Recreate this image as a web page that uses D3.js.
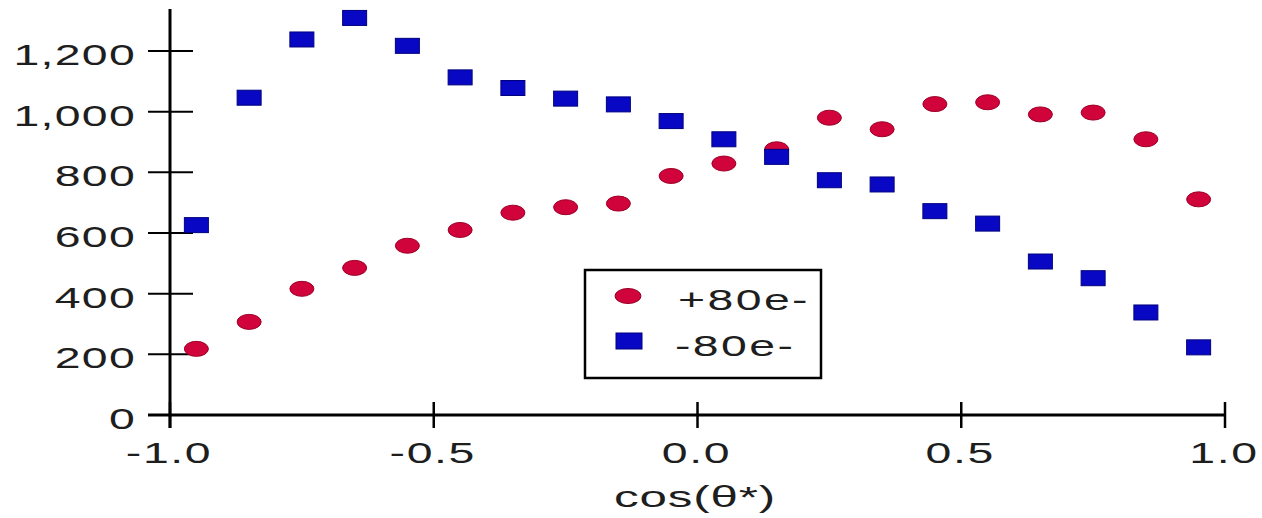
<!DOCTYPE html>
<html>
<head>
<meta charset="utf-8">
<script src="https://cdn.jsdelivr.net/npm/d3@7"></script>
<style>
  html, body { margin: 0; padding: 0; background: #fff; }
  svg { display: block; }
  text { font-family: "Liberation Sans", Arial, sans-serif; fill: #1e1e1e; }
</style>
</head>
<body>
<svg id="chart" width="1262" height="518"></svg>
<script>
// Bin centres of cos(theta*)
const cosTheta = [-0.95, -0.85, -0.75, -0.65, -0.55, -0.45, -0.35, -0.25, -0.15, -0.05,
                   0.05,  0.15,  0.25,  0.35,  0.45,  0.55,  0.65,  0.75,  0.85,  0.95];
// Counts per bin for each beam polarisation
const plus80 =  [218, 307, 416, 485, 558, 610, 667, 685, 697, 788,
                 829, 876, 980, 942, 1025, 1031, 991, 997, 909, 711];
const minus80 = [626, 1046, 1238, 1309, 1217, 1113, 1078, 1043, 1024, 969,
                 909, 851, 774, 760, 672, 631, 506, 451, 338, 223];
const seriesNames = ["+80e-", "-80e-"];
const xTicks = [-1.0, -0.5, 0.0, 0.5, 1.0];
const yTicks = [0, 200, 400, 600, 800, 1000, 1200];
const xTitle = "cos(θ*)";

const svg = d3.select("#chart");
const x = d3.scaleLinear().domain([-1, 1]).range([170, 1225]);
const y = d3.scaleLinear().domain([0, 1200]).range([415, 51]);

const STRETCH = 1.6;     // wide, horizontally stretched lettering
const FONT = 29;
const red = "#d0033a", redEdge = "#9c0026";
const blue = "#0808c4", blueEdge = "#00007e";

function label(parent, tx, ty, str, anchor, sx, spacing) {
  return parent.append("g").attr("transform", `translate(${tx},${ty})`)
    .append("text").attr("text-anchor", anchor).attr("font-size", FONT)
    .attr("letter-spacing", spacing)
    .attr("transform", `scale(${sx},1)`).text(str);
}

// Axis lines
svg.append("line").attr("x1", x(-1)).attr("x2", x(-1)).attr("y1", 9).attr("y2", 428)
  .attr("stroke", "#000").attr("stroke-width", 3);
svg.append("line").attr("x1", 148).attr("x2", x(1)).attr("y1", y(0)).attr("y2", y(0))
  .attr("stroke", "#000").attr("stroke-width", 3);

// Y ticks (crossing the axis) and labels
const yg = svg.append("g");
yTicks.forEach(v => {
  yg.append("line").attr("x1", 148).attr("x2", 193).attr("y1", y(v)).attr("y2", y(v))
    .attr("stroke", "#000").attr("stroke-width", 2);
  label(yg, 136, y(v) + 14, d3.format(",")(v), "end", STRETCH, 0.8);
});

// X ticks (crossing the axis) and labels
const xg = svg.append("g");
xTicks.forEach(v => {
  xg.append("line").attr("x1", x(v)).attr("x2", x(v)).attr("y1", 402).attr("y2", 428)
    .attr("stroke", "#000").attr("stroke-width", 2.5);
  label(xg, x(v) - 1, 463, d3.format(".1f")(v).replace("−", "-"), "middle", STRETCH, 1);
});

// X axis title
label(svg, 695, 507, xTitle, "middle", STRETCH + 0.1, 0.5);

// Data markers: ellipses for +80e-, rectangles for -80e-
const pts = svg.append("g");
pts.selectAll("ellipse.p").data(cosTheta.map((c, i) => [c, plus80[i]])).join("ellipse")
  .attr("class", "p")
  .attr("cx", d => x(d[0])).attr("cy", d => y(d[1]))
  .attr("rx", 12).attr("ry", 7.5)
  .attr("fill", red).attr("stroke", redEdge).attr("stroke-width", 1);
pts.selectAll("rect.m").data(cosTheta.map((c, i) => [c, minus80[i]])).join("rect")
  .attr("class", "m")
  .attr("x", d => x(d[0]) - 12).attr("y", d => y(d[1]) - 7.5)
  .attr("width", 24).attr("height", 15)
  .attr("fill", blue).attr("stroke", blueEdge).attr("stroke-width", 1);

// Legend
const lg = svg.append("g");
lg.append("rect").attr("x", 585).attr("y", 270).attr("width", 236).attr("height", 108)
  .attr("fill", "#fff").attr("stroke", "#000").attr("stroke-width", 2.5);
lg.append("ellipse").attr("cx", 628).attr("cy", 296).attr("rx", 13).attr("ry", 7.5)
  .attr("fill", red).attr("stroke", redEdge).attr("stroke-width", 1);
lg.append("rect").attr("x", 616).attr("y", 333).attr("width", 26).attr("height", 16)
  .attr("fill", blue).attr("stroke", blueEdge).attr("stroke-width", 1);
label(lg, 678, 310, seriesNames[0], "start", STRETCH, 1.5);
label(lg, 675, 356, seriesNames[1], "start", STRETCH, 1.5);
</script>
</body>
</html>
